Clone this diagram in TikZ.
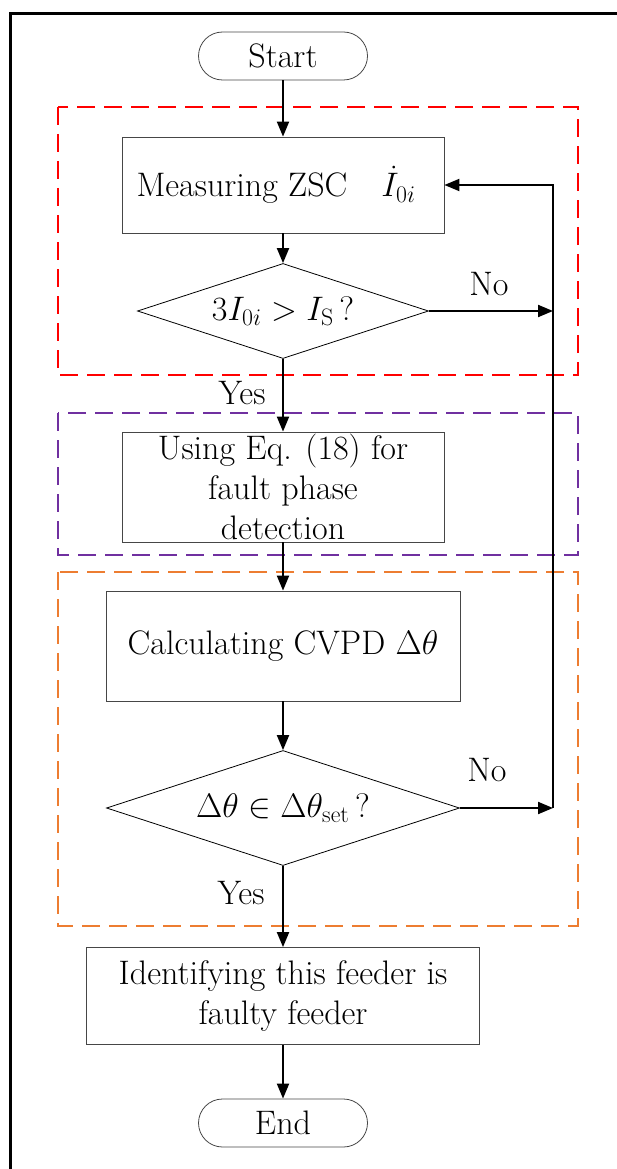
\RequirePackage{fix-cm}
\documentclass[tikz,border=0pt]{standalone}
\usepackage{amsmath}
\usetikzlibrary{arrows.meta,shapes.geometric}
\definecolor{boxred}{RGB}{255,0,0}
\definecolor{boxpurple}{RGB}{112,48,160}
\definecolor{boxorange}{RGB}{237,125,49}
\definecolor{edgegray}{RGB}{70,70,70}
\tikzset{
  every node/.style={font=\fontsize{34}{40}\selectfont},
  term/.style={draw=edgegray, line width=0.8pt, rounded corners=24pt,
    minimum width=169pt, minimum height=48pt, inner sep=0pt},
  proc/.style={draw=edgegray, line width=0.8pt, inner sep=0pt, align=center},
  judge/.style={draw=black, line width=0.8pt, diamond, aspect=3, inner sep=0pt},
  flow/.style={line width=2pt, -{Triangle[length=15pt,width=12pt]}},
  region/.style={line width=2.4pt, dash pattern=on 18pt off 9pt},
}
\begin{document}
\begin{tikzpicture}[x=1pt,y=-1pt]
\useasboundingbox (0,0) rectangle (617,1169);
% outer frame
\draw[line width=3pt] (10,1175) -- (10,14) -- (625,14);

% dashed stages
\draw[region, boxred] (58,107) rectangle (578,375);
\draw[region, boxpurple] (58,413) rectangle (578,555);
\draw[region, boxorange] (58,572) rectangle (578,926);

% steps
\node[term] (start) at (283,56) {Start};
\node[proc, minimum width=322pt, minimum height=96pt] (measure) at (283,185)
  {Measuring ZSC\quad$\dot{I}_{0i}$\hspace*{14pt}};
\node[judge, minimum width=291pt, minimum height=95pt] (judge1) at (283,311)
  {$3I_{0i}>I_{\mathrm{S}}\,?$};
\node[proc, minimum width=322pt, minimum height=110pt] (phase) at (283,487)
  {Using Eq. (18) for\\fault phase\\detection};
\node[proc, minimum width=354pt, minimum height=110pt] (calc) at (283,646)
  {Calculating CVPD $\Delta\theta$};
\node[judge, minimum width=353pt, minimum height=115pt] (judge2) at (283,808)
  {$\Delta\theta\in\Delta\theta_{\mathrm{set}}\,?$};
\node[proc, minimum width=393pt, minimum height=97pt] (identify) at (283,996)
  {Identifying this feeder is\\faulty feeder};
\node[term] (stop) at (283,1123) {End};

% branch labels
\node (no1) at (489,284) {No};
\node (yes1) at (242,393) {Yes};
\node (no2) at (487,770) {No};
\node (yes2) at (241,893) {Yes};

% return path
\coordinate (ret1) at (553,311);
\coordinate (ret2) at (553,808);

% connectors
\draw[flow] (start) -- (measure);
\draw[flow] (measure) -- (judge1);
\draw[flow] (judge1) -- (phase);
\draw[flow] (phase) -- (calc);
\draw[flow] (calc) -- (judge2);
\draw[flow] (judge2) -- (identify);
\draw[flow] (identify) -- (stop);
\draw[flow] (judge1.east) -- (ret1);
\draw[flow] (judge2.east) -- (ret2);
\draw[flow] (ret2) |- (measure.east);
\end{tikzpicture}
\end{document}
